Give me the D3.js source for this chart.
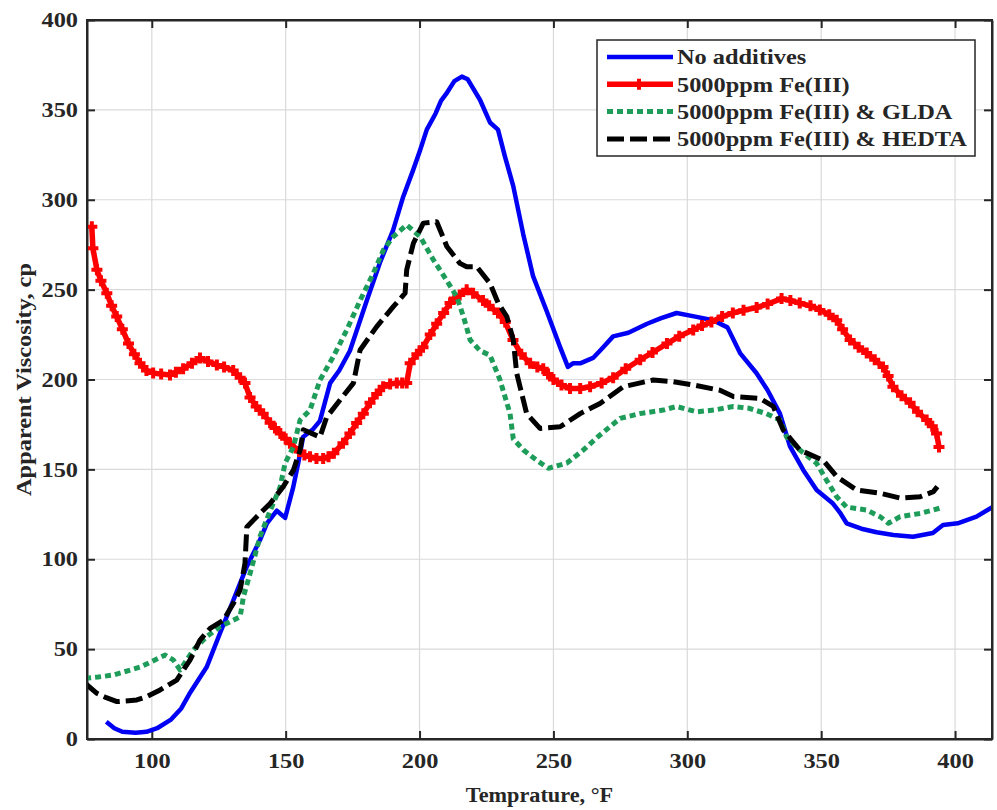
<!DOCTYPE html>
<html>
<head>
<meta charset="utf-8">
<title>Apparent Viscosity vs Temprature</title>
<script src="https://cdn.jsdelivr.net/npm/d3@7"></script>
<style>
  body { margin: 0; background: #fff; }
  text { font-family: "Liberation Serif", "Times New Roman", serif; font-weight: bold; fill: #262626; }
</style>
</head>
<body>
<script>
// ---- data (temperature °F, viscosity cp) ----
let noAdditives = [[83,9.6],[86,6],[89,4],[94,3.5],[98,4],[102,6],[107,10.6],[111,17],[114,25],[117,32],[120.5,40],[125.5,59],[130.4,77],[135.5,96],[140.4,110.7],[143,120],[146.7,127],[149.8,123],[152.8,140],[154.7,153.5],[156.5,168],[160,172],[162.8,177],[166.6,198],[170,205],[174,216],[180.3,244],[185.2,265],[190.1,283],[193.9,301.7],[197.6,316.5],[200.2,327.6],[202.7,339],[206,348],[208,355],[210,359],[213,366],[215.8,368.5],[218,367],[222.6,355.5],[226.3,343],[229.3,339],[231.9,324],[235,307.6],[238.7,281],[242.4,257.5],[247.5,238],[252.5,218],[255.4,207],[257.3,209],[260,209],[264.8,212],[268,217],[272.3,224],[278,226],[285,231],[290,234],[296,237],[303,235],[309.6,233],[315,229],[319.7,214.7],[325.8,203.6],[330,194],[334.6,181],[338.4,162.6],[343.3,149.7],[348.3,138.5],[354.4,131],[357,126],[359.5,120],[365,117],[370.7,115],[377,113.5],[384.3,112.5],[391.7,114.6],[395.5,119],[401,120],[408,123.7],[415,130]];

let fe3 = [[77.6,285],[78,273],[79.5,261],[81,255],[83.2,248],[85,241],[86.9,235],[89,228],[91.3,220],[93.5,214],[95.6,209],[98,205],[100.5,203.6],[103.5,203],[106.8,202.5],[109,204],[111.7,206],[115,209],[118,212],[121,210],[124.3,208],[127,207],[130.4,205],[133,201],[134.8,198],[136.7,190],[139,185],[141.6,181],[144.2,176],[146,173],[148,170],[150,167],[151.6,164.6],[155,160],[157,158],[159.1,157],[161.5,156],[164,156],[166,157],[168,159],[171.4,164.6],[174,170],[176.5,175.8],[179,181],[181.5,187],[184,192],[186.4,196],[189,197.5],[191.5,198],[193.5,198],[195.2,198],[196.5,209],[199,214],[201.3,218],[204,225],[206.4,231],[209,237],[211.4,242.5],[213,245],[215,247],[217.6,250],[220,248],[223.7,244],[226,241],[229.3,237],[232,232],[234.9,222],[238,214],[241.3,209],[244,207],[246.2,206],[248,203],[250,200],[253,197],[256.2,195],[260,195],[263.7,196],[268,198],[272.3,201],[277,206],[282.4,211],[287,215],[292.4,220],[297,224],[302.2,227.5],[305.5,230],[309,232],[313,235],[317,237],[321,238.5],[325.9,240],[330,242],[335.2,245],[338.5,244],[342,242.5],[346,241],[349.5,238.7],[353,236],[355.8,233],[358,228],[360.8,222],[364,218],[367,214.7],[370,211],[373.1,207],[375,202],[376.8,196],[380,191],[383.2,187],[386,182],[389.4,177.5],[391.5,174],[393.1,170],[394,162.5]];

let fe3Glda = [[75.1,33.8],[80,34.5],[85.7,35.6],[95.6,40],[105,46.7],[108,44],[110.6,38.4],[115.5,49.5],[120.5,57],[125.5,62.5],[133,68],[134.2,79],[136.7,92],[140.4,112.5],[144.2,127],[147.9,140],[149.8,153.5],[152.9,162.6],[155.4,177.5],[159.1,183],[162.8,199.7],[167.8,212.7],[172.8,227.5],[177.8,244],[182.7,259],[186.5,272],[190.2,279.5],[195.2,286],[200.2,279.5],[205.2,266.5],[210.2,255],[213.9,246],[216.4,235],[218.9,222],[222.6,216],[226.3,213.5],[230,200],[233.8,181],[235,167],[238.8,160.8],[243.8,155],[248.1,150.6],[255,153.5],[261.2,160.8],[266.5,168],[274.9,178.4],[282.3,181],[291,183],[296,185],[303.5,182],[310,183],[317.2,185],[323,184],[329.6,181],[334.6,177.5],[337.1,168],[342,160.8],[348.3,153.4],[352,144],[355.8,134.8],[359.5,129],[367,127.4],[372,123.7],[375.1,120],[379.5,123.7],[387,125.5],[391.9,127.4],[395.6,129]];

let fe3Hedta = [[75.1,31],[79.5,25.4],[83,23],[87,20.8],[94.4,21.7],[98,23.5],[103.1,27.3],[109.3,32.8],[114.3,44],[118,55],[121.8,61.6],[126.7,66],[130.5,75.5],[133,83],[134.8,97.7],[135.5,118],[139.2,123.7],[144.2,131],[149.1,140.4],[152.9,149.6],[155.4,160.8],[156.6,172],[162.8,168],[165.3,179],[170.3,188.6],[175.3,198],[177.8,216.4],[184,229.4],[190.2,240.5],[194.6,248],[195.2,261],[197.7,275.8],[201.4,287],[206.4,287.8],[210.2,274],[215.1,264.6],[217.6,262.7],[221.4,262.7],[226.3,253.5],[229.4,242.4],[232.6,235],[235,222],[236.3,203.4],[240,181],[245,172.8],[252.5,173.7],[260,181],[267.4,186.7],[276.1,196],[287.3,199.7],[294.8,198.8],[302.2,197],[312.2,194],[317.2,190.5],[327.1,189.5],[332.1,185],[335.8,172],[342,160.8],[350.8,155],[355.8,146],[363.3,138.5],[372,136.7],[379.5,134],[387,134.8],[391.9,137.6],[393.4,140.4]];

let seriesNames = ["No additives", "5000ppm Fe(III)", "5000ppm Fe(III) & GLDA", "5000ppm Fe(III) & HEDTA"];
let xTicks = [100, 150, 200, 250, 300, 350, 400];
let yTicks = [0, 50, 100, 150, 200, 250, 300, 350, 400];

// ---- layout ----
let width = 997, height = 810,
    margins = { left: 87, top: 20, right: 5, bottom: 71 };

let x = d3.scaleLinear().domain([75.8, 413.8]).range([margins.left, width - margins.right]);
let y = d3.scaleLinear().domain([0, 400]).range([height - margins.bottom, margins.top]);

let styles = [
    { color: "#0000f5", width: 4.5, dash: null },
    { color: "#ff0000", width: 5.5, dash: null, marker: true },
    { color: "#1e9c5a", width: 5, dash: "6,4" },
    { color: "#000000", width: 5, dash: "17,6" }
];
let data = [noAdditives, fe3, fe3Glda, fe3Hedta];

let svg = d3.select("body").append("svg")
    .attr("width", width)
    .attr("height", height);

svg.append("defs").append("clipPath").attr("id", "body-clip")
    .append("rect")
    .attr("x", x.range()[0]).attr("y", y.range()[1])
    .attr("width", x.range()[1] - x.range()[0])
    .attr("height", y.range()[0] - y.range()[1]);

// grid
let grid = svg.append("g").attr("class", "grid");
grid.selectAll("line.gx").data(xTicks).enter().append("line")
    .attr("x1", d => x(d)).attr("x2", d => x(d))
    .attr("y1", y.range()[0]).attr("y2", y.range()[1])
    .attr("stroke", "#dadada").attr("stroke-width", 1.2);
grid.selectAll("line.gy").data(yTicks).enter().append("line")
    .attr("y1", d => y(d)).attr("y2", d => y(d))
    .attr("x1", x.range()[0]).attr("x2", x.range()[1])
    .attr("stroke", "#dadada").attr("stroke-width", 1.2);

// axes, ticks pointing inward on all four sides
let fmt = d3.format("d");
let axisStyle = function (g) {
    g.select(".domain").attr("stroke", "#262626").attr("stroke-width", 2);
    g.selectAll(".tick line").attr("stroke", "#262626").attr("stroke-width", 2);
};
// the figure's lettering is a little wide, so stretch it along its baseline
let stretch = function (sel, sx) {
    sel.each(function () {
        let t = d3.select(this);
        let tx = +t.attr("x") || 0, ty = +t.attr("y") || 0;
        t.attr("transform", (t.attr("transform") || "") + " translate(" + tx + "," + ty + ") scale(" + sx + ",1)")
            .attr("x", 0).attr("y", 0);
    });
};

svg.append("g").attr("transform", "translate(0," + y.range()[0] + ")")
    .call(d3.axisBottom(x).tickValues(xTicks).tickFormat(fmt).tickSizeInner(-8).tickSizeOuter(0).tickPadding(14))
    .call(axisStyle)
    .call(g => g.selectAll(".tick text").attr("font-size", 21).attr("font-family", null).attr("dy", "0.71em").call(stretch, 1.16));
svg.append("g").attr("transform", "translate(0," + y.range()[1] + ")")
    .call(d3.axisTop(x).tickValues(xTicks).tickFormat("").tickSizeInner(-8).tickSizeOuter(0))
    .call(axisStyle);
svg.append("g").attr("transform", "translate(" + x.range()[0] + ",0)")
    .call(d3.axisLeft(y).tickValues(yTicks).tickFormat(fmt).tickSizeInner(-8).tickSizeOuter(0).tickPadding(9))
    .call(axisStyle)
    .call(g => g.selectAll(".tick text").attr("font-size", 21).attr("font-family", null).call(stretch, 1.16));
svg.append("g").attr("transform", "translate(" + x.range()[1] + ",0)")
    .call(d3.axisRight(y).tickValues(yTicks).tickFormat("").tickSizeInner(-8).tickSizeOuter(0))
    .call(axisStyle);

// series
let line = d3.line().x(d => x(d[0])).y(d => y(d[1]));
let body = svg.append("g").attr("clip-path", "url(#body-clip)");
data.forEach(function (series, i) {
    let s = styles[i];
    body.append("path")
        .datum(series)
        .attr("fill", "none")
        .attr("stroke", s.color)
        .attr("stroke-width", s.width)
        .attr("stroke-linejoin", "round")
        .attr("stroke-dasharray", s.dash)
        .attr("d", line);
    if (s.marker) {
        body.selectAll("path.mk").data(series).enter().append("path")
            .attr("d", d => "M" + (x(d[0]) - 5.5) + "," + y(d[1]) + "h11M" + x(d[0]) + "," + (y(d[1]) - 5.5) + "v11")
            .attr("stroke", s.color).attr("stroke-width", 4);
    }
});

// frame on top
svg.append("rect")
    .attr("x", x.range()[0]).attr("y", y.range()[1])
    .attr("width", x.range()[1] - x.range()[0])
    .attr("height", y.range()[0] - y.range()[1])
    .attr("fill", "none").attr("stroke", "#262626").attr("stroke-width", 2);

// axis titles
svg.append("text")
    .attr("x", (x.range()[0] + x.range()[1]) / 2).attr("y", 802)
    .attr("text-anchor", "middle").attr("font-size", 21)
    .text("Temprature, °F").call(stretch, 1.06);
svg.append("g")
    .attr("transform", "translate(31," + (y.range()[0] + y.range()[1]) / 2 + ") rotate(-90)")
    .append("text")
    .attr("text-anchor", "middle").attr("font-size", 21)
    .text("Apparent Viscosity, cp").call(stretch, 1.16);

// legend
let lg = svg.append("g").attr("transform", "translate(597,40)");
lg.append("rect").attr("width", 378).attr("height", 116)
    .attr("fill", "#fff").attr("stroke", "#262626").attr("stroke-width", 1.5);
let rows = lg.selectAll("g.row").data(seriesNames).enter().append("g")
    .attr("transform", (d, i) => "translate(0," + (17 + i * 27.3) + ")");
rows.append("line")
    .attr("x1", 10).attr("x2", 76).attr("y1", 0).attr("y2", 0)
    .attr("stroke", (d, i) => styles[i].color)
    .attr("stroke-width", (d, i) => styles[i].width)
    .attr("stroke-dasharray", (d, i) => styles[i].dash);
rows.filter((d, i) => styles[i].marker).append("path")
    .attr("d", "M42,-5.5v11M36.5,0h11").attr("stroke", styles[1].color).attr("stroke-width", 4);
rows.append("text")
    .attr("x", 80).attr("y", 0).attr("dy", "0.35em").attr("font-size", 21)
    .text(d => d).call(stretch, 1.16);
</script>
</body>
</html>
